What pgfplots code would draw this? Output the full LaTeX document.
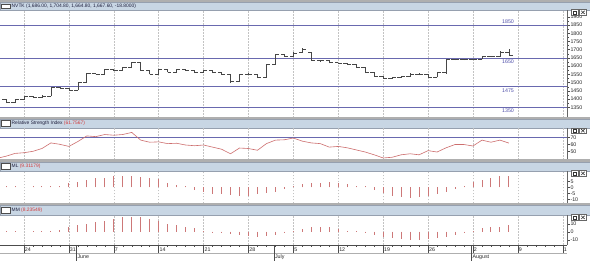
\documentclass[border=0pt]{standalone}
\usepackage{pgfplots}
\pgfplotsset{compat=1.18}
\usepackage{pgfplotstable}
\usepackage{fontspec}
\setmainfont{Liberation Sans}
\definecolor{tbar}{RGB}{200,214,228}
\definecolor{tbord}{RGB}{150,160,175}
\definecolor{sepc}{RGB}{175,175,175}
\definecolor{gridc}{RGB}{195,195,195}
\definecolor{lvl}{RGB}{105,105,175}
\definecolor{lvltxt}{RGB}{80,80,170}
\definecolor{barc}{RGB}{70,70,70}
\definecolor{rsic}{RGB}{205,110,110}
\definecolor{oscc}{RGB}{205,120,120}
\definecolor{valred}{RGB}{210,60,60}
\definecolor{ttext}{RGB}{30,30,60}

\pgfplotstableread{
i O H L C
-2 1399 1402 1376 1380
-1 1380 1401 1377 1399
0 1399 1418 1396 1415
1 1415 1417 1405 1409
2 1409 1422 1406 1419
3 1419 1472 1417 1469
4 1469 1471 1460 1463
5 1463 1465 1452 1455
6 1455 1502 1453 1499
7 1499 1558 1497 1555
8 1555 1560 1550 1553
9 1553 1583 1551 1580
10 1580 1582 1571 1574
11 1574 1593 1572 1590
12 1590 1623 1588 1620
13 1620 1622 1571 1574
14 1574 1576 1550 1553
15 1553 1583 1551 1580
16 1580 1582 1562 1564
17 1564 1583 1562 1580
18 1580 1582 1571 1574
19 1574 1576 1557 1560
20 1560 1577 1558 1574
21 1574 1576 1557 1560
22 1560 1562 1547 1550
23 1550 1552 1497 1509
24 1509 1553 1507 1550
25 1550 1556 1548 1553
26 1553 1555 1527 1530
27 1530 1613 1528 1610
28 1610 1673 1608 1670
29 1670 1672 1657 1660
30 1660 1683 1658 1680
31 1682 1712 1680 1700
32 1682 1684 1632 1636
33 1636 1640 1628 1633
34 1633 1635 1617 1620
35 1620 1622 1612 1616
36 1616 1618 1606 1610
37 1610 1612 1588 1590
38 1590 1592 1558 1562
39 1562 1564 1538 1540
40 1540 1542 1526 1528
41 1528 1533 1524 1530
42 1530 1542 1528 1539
43 1539 1556 1537 1553
44 1553 1556 1546 1549
45 1549 1551 1530 1533
46 1533 1565 1531 1562
47 1562 1643 1553 1640
48 1640 1645 1636 1641
49 1641 1645 1637 1640
50 1640 1646 1636 1643
51 1643 1663 1641 1660
52 1660 1664 1655 1659
53 1659 1690 1656 1686.4
54 1686 1704.8 1664.8 1667.6
}\price

\pgfplotstableread{
i v
-3 40
-2 43
-1 47
0 48
1 50
2 54
3 62
4 60
5 57
6 64
7 72
8 71
9 74
10 73
11 74
12 77
13 66
14 63
15 63.5
16 61
17 61.5
18 59
19 58
20 59
21 56
22 53
23 46.5
24 54.7
25 54
26 51.5
27 61
28 66
29 66.5
30 69
31 64.5
32 62
33 61
34 56
35 57
36 55
37 52
38 49
39 45
40 40.5
41 41.5
42 45
43 46.5
44 45
45 51
46 49
47 55
48 59.7
49 59.7
50 57.6
51 66
52 63
53 66
54 61.76
}\rsi

\pgfplotstableread{
i v
-2 0.8
-1 0.8
1 0.8
2 0.8
3 0.9
4 1.2
5 3.3
6 4.7
7 6.1
8 7.5
9 8.1
10 9.4
11 9.7
12 9.4
13 8.9
14 8.1
15 7.0
16 3.9
17 2.0
18 0.9
19 -2.2
20 -4.2
21 -5.8
22 -5.8
23 -6.4
24 -6.9
25 -6.9
26 -5.8
27 -5.0
28 -3.6
29 -1.4
30 0.8
31 2.8
32 3.9
33 3.9
34 4.7
35 3.3
36 2.5
37 1.4
38 0.8
39 -2.2
40 -5.0
41 -6.9
42 -7.8
43 -8.6
44 -7.8
45 -6.9
46 -5.8
47 -3.6
48 -1.7
49 1.1
50 4.2
51 6.1
52 8.1
53 9.4
54 9.31
}\ml

\pgfplotstableread{
i v
-2 1.2
-1 1.2
1 1.2
2 1.2
3 1.4
4 1.8
5 6.2
6 8.3
7 9.6
8 11.7
9 13.7
10 15.8
11 17.9
12 17.9
13 17.9
14 15.8
15 13.7
16 9.6
17 8.3
18 6.2
19 4.2
20 1.2
21 -1.2
22 -2.0
23 -3.3
24 -4.2
25 -5.0
26 -6.2
27 -5.4
28 -4.2
29 -2.0
30 1.2
31 3.3
32 5.4
33 6.2
34 5.4
35 3.3
36 1.4
37 1.2
38 -2.0
39 -4.2
40 -7.0
41 -8.3
42 -9.6
43 -10.4
44 -10.4
45 -9.6
46 -8.3
47 -6.2
48 -4.2
49 -2.0
50 1.0
51 4.2
52 5.4
53 6.2
54 8.24
}\mm

\newcommand\tfont{\fontsize{4.9}{5.5}\selectfont}
\newcommand\lfont{\fontsize{5.3}{6}\selectfont}

\pgfplotsset{
 pane/.style={
  scale only axis, width=567pt,
  xmin=-2.67, xmax=60.47,
  axis line style={draw=none},
  xtick={0,5,...,60}, xticklabels={},
  x tick style={draw=none},
  xmajorgrids,
  major x grid style={draw=gridc, dash pattern=on 1.5pt off 1.5pt, line width=0.5pt},
  ytick pos=right, yticklabel pos=right,
  tick align=outside,
  y tick style={draw=black!70, line width=0.4pt},
  major tick length=2.5pt, minor tick length=1.5pt,
  yticklabel style={font=\lfont, inner sep=0.8pt, text=black!85},
  /pgf/number format/assume math mode=true,
  /pgf/number format/1000 sep={},
 },
 ohlc/.style={draw=none, mark=none, forget plot},
}

\newcommand\titlebar[2]{% bottom y, top y
  \fill[sepc] (0pt,#2pt) rectangle (590pt,#2pt+1.6pt);
  \filldraw[fill=tbar, draw=tbord, line width=0.3pt] (0pt,#1pt) rectangle (590pt,#2pt);
  \filldraw[fill=white, draw=black!70, line width=0.4pt] (1.5pt,#1pt+2pt) rectangle (10pt,#2pt-2pt);
  \draw[black!70, line width=1pt] (1.5pt,#2pt-2.3pt) -- (10pt,#2pt-2.3pt);
}
\newcommand\buttons[1]{% top y
  \filldraw[fill=white, draw=black!60, line width=0.3pt] (571.5pt,#1pt-5.8pt) rectangle (578.3pt,#1pt);
  \draw[black!80, line width=0.4pt] (573.2pt,#1pt-4.5pt) rectangle (576.6pt,#1pt-1.3pt);
  \filldraw[fill=white, draw=black!60, line width=0.3pt] (579.5pt,#1pt-5.8pt) rectangle (586.3pt,#1pt);
  \draw[black!80, line width=0.6pt] (581.2pt,#1pt-4.5pt) -- (584.6pt,#1pt-1.3pt) (581.2pt,#1pt-1.3pt) -- (584.6pt,#1pt-4.5pt);
}

\begin{document}
\begin{tikzpicture}
\path[use as bounding box] (0pt,0pt) rectangle (590pt,261pt);
\fill[white] (0pt,0pt) rectangle (590pt,261pt);
\fill[sepc] (0pt,258.4pt) rectangle (590pt,261pt);

% title bars
\titlebar{251}{258.4}
\titlebar{132.7}{142.3}
\titlebar{90}{99.3}
\titlebar{46}{56}

\node[anchor=west, font=\tfont, inner sep=0, text=ttext] at (11.5pt,254.7pt) {NVTK (1,686.00, 1,704.80, 1,664.80, 1,667.60, -18.8000)};
\node[anchor=west, font=\tfont, inner sep=0, text=ttext] at (11.5pt,137.5pt) {Relative Strength Index \textcolor{valred}{(61.7567)}};
\node[anchor=west, font=\tfont, inner sep=0, text=ttext] at (11.5pt,94.6pt) {ML \textcolor{valred}{(9.31179)}};
\node[anchor=west, font=\tfont, inner sep=0, text=ttext] at (11.5pt,51pt) {MM \textcolor{valred}{(8.23549)}};

% price pane
\begin{axis}[pane, at={(0pt,251pt)}, anchor=north west, height=108pt,
  ymin=1285, ymax=1941, ytick={1350,1400,...,1900}, minor y tick num=1]
\addplot[lvl, line width=0.7pt, forget plot] coordinates {(-2.67,1850) (60.47,1850)};
\addplot[lvl, line width=0.7pt, forget plot] coordinates {(-2.67,1650) (60.47,1650)};
\addplot[lvl, line width=0.7pt, forget plot] coordinates {(-2.67,1475) (60.47,1475)};
\addplot[lvl, line width=0.7pt, forget plot] coordinates {(-2.67,1350) (60.47,1350)};
\addplot[ohlc, error bars/.cd, y dir=plus, y explicit, error mark=none,
  error bar style={draw=barc, line width=0.7pt}]
  table[x=i, y=L, y error expr=\thisrow{H}-\thisrow{L}] {\price};
\addplot[ohlc, error bars/.cd, x dir=minus, x fixed=0.42, error mark=none,
  error bar style={draw=barc, line width=0.7pt}]
  table[x=i, y=O] {\price};
\addplot[ohlc, error bars/.cd, x dir=plus, x fixed=0.42, error mark=none,
  error bar style={draw=barc, line width=0.7pt}]
  table[x=i, y=C] {\price};
\node[font=\lfont, text=lvltxt, anchor=south, inner sep=1pt] at (axis cs:53.9,1852) {1850};
\node[font=\lfont, text=lvltxt, anchor=north, inner sep=1pt] at (axis cs:53.9,1646) {1650};
\node[font=\lfont, text=lvltxt, anchor=north, inner sep=1pt] at (axis cs:53.9,1470) {1475};
\node[font=\lfont, text=lvltxt, anchor=north, inner sep=1pt] at (axis cs:53.9,1346) {1350};
\end{axis}

% RSI pane
\begin{axis}[pane, at={(0pt,132.7pt)}, anchor=north west, height=31.7pt,
  ymin=37.6, ymax=82.9, ytick={50,60,70}]
\addplot[lvl, line width=0.7pt] coordinates {(-2.67,70) (60.47,70)};
\addplot[rsic, line width=0.6pt] table[x=i, y=v] {\rsi};
\end{axis}

% ML pane
\begin{axis}[pane, at={(0pt,90pt)}, anchor=north west, height=32.3pt,
  ymin=-13.3, ymax=13.6, ytick={-10,-5,0,5}]
\addplot[ycomb, oscc, line width=0.9pt] table[x=i, y=v] {\ml};
\end{axis}

% MM pane
\begin{axis}[pane, at={(0pt,46pt)}, anchor=north west, height=30pt,
  ymin=-16.6, ymax=20.9, ytick={-10,0,10}]
\addplot[ycomb, oscc, line width=0.9pt] table[x=i, y=v] {\mm};
\end{axis}

% date axis
\begin{axis}[scale only axis, width=567pt, height=8pt, at={(0pt,16pt)}, anchor=north west,
  xmin=-2.67, xmax=60.47, ymin=0, ymax=1,
  axis line style={draw=none}, ytick=\empty,
  xtick={0,5,...,60}, xticklabels={24,31,7,14,21,28,5,12,19,26,2,9,1},
  minor x tick num=4, xtick pos=right, xticklabel pos=left, tick align=inside,
  major tick length=8pt, minor tick length=2.5pt,
  x tick style={draw=black!70, line width=0.4pt},
  xticklabel style={anchor=south west, inner sep=0.8pt, font=\lfont, text=black!85},
  clip=false]
\draw[black!70, line width=0.4pt] (axis cs:-2.67,1) -- (axis cs:60.47,1);
\draw[sepc, line width=0.4pt] (axis cs:-2.67,0) -- (axis cs:60.47,0);
\draw[black!70, line width=0.4pt] (axis cs:5.85,1) -- ++(0pt,-16pt);
\draw[black!70, line width=0.4pt] (axis cs:27.85,1) -- ++(0pt,-16pt);
\draw[black!70, line width=0.4pt] (axis cs:49.85,1) -- ++(0pt,-16pt);
\node[anchor=west, font=\lfont, inner sep=0.8pt, text=black!85, yshift=-3.8pt] at (axis cs:5.85,0) {June};
\node[anchor=west, font=\lfont, inner sep=0.8pt, text=black!85, yshift=-3.8pt] at (axis cs:27.85,0) {July};
\node[anchor=west, font=\lfont, inner sep=0.8pt, text=black!85, yshift=-3.8pt] at (axis cs:49.85,0) {August};
\end{axis}

% right axis lines
\draw[black!60, line width=0.4pt] (567pt,143pt) -- (567pt,251pt);
\draw[black!60, line width=0.4pt] (567pt,101pt) -- (567pt,132.7pt);
\draw[black!60, line width=0.4pt] (567pt,57.7pt) -- (567pt,90pt);
\draw[black!60, line width=0.4pt] (567pt,16pt) -- (567pt,46pt);
% separators between panes
\fill[sepc] (0pt,101pt) rectangle (590pt,101.8pt);
\fill[sepc] (0pt,143pt) rectangle (590pt,143.6pt);
\fill[sepc] (0pt,57.7pt) rectangle (590pt,58.4pt);

\buttons{251.5}
\buttons{133.2}
\buttons{90.5}
\buttons{46.5}
\end{tikzpicture}
\end{document}
